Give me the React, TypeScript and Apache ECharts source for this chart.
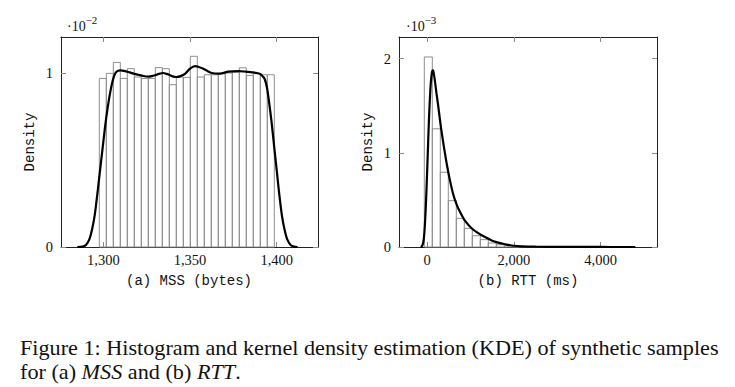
import React, { useEffect, useRef } from "react";
import * as echarts from "echarts";

// ---- Data (densities shown in the axis' scaled units) ----
// (a) MSS histogram: 25 bins, density in units of 1e-2
const MSS_BIN_START = 1297.7;
const MSS_BIN_WIDTH = 4.036;
const mssHist = [
  0.969, 0.998, 1.061, 0.969, 1.025, 0.977, 0.969, 0.969, 1.031, 1.025, 0.933, 0.977, 0.975,
  1.096, 0.977, 0.99, 0.99, 0.995, 1.0, 1.005, 1.03, 0.986, 0.996, 0.99, 0.99,
];
// (a) MSS KDE curve
const mssKdeX = [
  1285, 1288, 1290, 1292, 1293.5, 1295, 1296.5, 1298, 1299.5, 1301, 1302.5, 1304, 1305.5, 1307,
  1308.5, 1310, 1312, 1314.4, 1317, 1320.2, 1323, 1326, 1328, 1329.8, 1332, 1334.6, 1336.5,
  1338.5, 1340.5, 1342.3, 1344.5, 1347.1, 1350, 1352.9, 1355, 1357.7, 1360, 1362.5, 1366.3, 1369,
  1372.1, 1377.9, 1382, 1385.6, 1388, 1390.4, 1392, 1393, 1394.3, 1395.5, 1397, 1398.5, 1400,
  1401.5, 1403, 1404.5, 1406, 1408, 1410, 1412,
];
const mssKdeY = [
  0, 0.002, 0.012, 0.045, 0.1, 0.18, 0.3, 0.43, 0.56, 0.69, 0.8, 0.89, 0.96, 1.0, 1.013, 1.015,
  1.012, 1.006, 0.998, 0.99, 0.983, 0.979, 0.982, 0.987, 0.995, 1.0, 0.995, 0.987, 0.979, 0.977,
  0.982, 0.995, 1.025, 1.04, 1.035, 1.025, 1.012, 1.0, 0.996, 1.0, 1.008, 1.011, 1.008, 1.004,
  1.001, 0.995, 0.98, 0.967, 0.92, 0.84, 0.72, 0.58, 0.44, 0.3, 0.18, 0.1, 0.045, 0.012, 0.002, 0,
];

// (b) RTT histogram: 25 bins, density in units of 1e-3
const RTT_BIN_START = -66.5;
const RTT_BIN_WIDTH = 184.5;
const rttHist = [
  2.018, 1.255, 0.794, 0.492, 0.304, 0.198, 0.12, 0.078, 0.042, 0.024, 0.014, 0.009, 0.006,
  0.004, 0.003, 0.002, 0.0015, 0.001, 0.001, 0.0005, 0.0005, 0, 0, 0, 0.0005,
];
// (b) RTT KDE curve
const rttKdeX = [
  -150, -120, -95, -75, -55, -35, -15, 5, 25, 45, 65, 85, 105, 125, 140, 160, 185, 215, 254, 300,
  350, 408, 460, 524, 600, 680, 770, 870, 1024, 1150, 1255, 1380, 1486, 1600, 1717, 1830, 1947,
  2178, 2500, 3000, 3500, 4000, 4500, 4800,
];
const rttKdeY = [
  0, 0.01, 0.04, 0.1, 0.22, 0.4, 0.62, 0.88, 1.15, 1.4, 1.6, 1.75, 1.84, 1.875, 1.87, 1.82, 1.74,
  1.63, 1.5, 1.33, 1.17, 1.0, 0.86, 0.71, 0.56, 0.45, 0.36, 0.28, 0.2, 0.155, 0.125, 0.095, 0.07,
  0.052, 0.038, 0.025, 0.016, 0.007, 0.003, 0.0012, 0.0006, 0.0003, 0.0001, 0,
];

// Tick values
const mssXTicks = [1300, 1350, 1400];
const mssYTicks = [0, 1];
const rttXTicks = [0, 2000, 4000];
const rttYTicks = [0, 1, 2];

const SERIF = "'Liberation Serif', 'Times New Roman', serif";
const MONO = "'Liberation Mono', 'DejaVu Sans Mono', monospace";

function fmt(v: number) {
  return Math.round(v).toLocaleString("en-US");
}

function histData(start: number, width: number, vals: number[]) {
  return vals.map((h, i) => [start + i * width, start + (i + 1) * width, h]);
}

function makeAxes(
  gridIndex: number,
  xMin: number,
  xMax: number,
  yMin: number,
  yMax: number,
  xTicks: number[],
  yTicks: number[]
) {
  const lineStyle = { color: "#222", width: 1 };
  const tick = (vals: number[]) => ({
    show: true,
    inside: true,
    length: 5,
    customValues: vals,
    lineStyle: { color: "#8a8a8a", width: 1 },
  });
  const xs = [
    {
      type: "value",
      gridIndex,
      position: "bottom",
      min: xMin,
      max: xMax,
      axisLine: { show: true, onZero: false, lineStyle },
      axisTick: tick(xTicks),
      splitLine: { show: false },
      axisLabel: {
        customValues: xTicks,
        formatter: (v: number) => fmt(v),
        fontFamily: SERIF,
        fontSize: 14.5,
        color: "#111",
        margin: 5,
      },
    },
    {
      type: "value",
      gridIndex,
      position: "top",
      min: xMin,
      max: xMax,
      axisLine: { show: true, onZero: false, lineStyle },
      axisTick: tick(xTicks),
      splitLine: { show: false },
      axisLabel: { show: false },
    },
  ];
  const ys = [
    {
      type: "value",
      gridIndex,
      position: "left",
      min: yMin,
      max: yMax,
      axisLine: { show: true, onZero: false, lineStyle },
      axisTick: tick(yTicks),
      splitLine: { show: false },
      axisLabel: {
        customValues: yTicks,
        formatter: (v: number) => fmt(v),
        fontFamily: SERIF,
        fontSize: 14.5,
        color: "#111",
        margin: 8,
      },
    },
    {
      type: "value",
      gridIndex,
      position: "right",
      min: yMin,
      max: yMax,
      axisLine: { show: true, onZero: false, lineStyle },
      axisTick: tick(yTicks),
      splitLine: { show: false },
      axisLabel: { show: false },
    },
  ];
  return { xs, ys };
}

function histSeries(xAxisIndex: number, yAxisIndex: number, data: number[][]) {
  return {
    type: "custom",
    xAxisIndex,
    yAxisIndex,
    data,
    encode: { x: [0, 1], y: 2 },
    renderItem: (_params: any, api: any) => {
      const x0 = api.value(0);
      const x1 = api.value(1);
      const h = api.value(2);
      const p0 = api.coord([x0, 0]);
      const p1 = api.coord([x1, h]);
      return {
        type: "rect",
        shape: { x: p0[0], y: p1[1], width: p1[0] - p0[0], height: p0[1] - p1[1] },
        style: { fill: "rgba(255,255,255,0)", stroke: "#8f8f8f", lineWidth: 1 },
      };
    },
    z: 2,
  };
}

function kdeSeries(xAxisIndex: number, yAxisIndex: number, xs: number[], ys: number[]) {
  return {
    type: "line",
    xAxisIndex,
    yAxisIndex,
    data: xs.map((x, i) => [x, ys[i]]),
    showSymbol: false,
    symbol: "none",
    smooth: 0.3,
    lineStyle: { color: "#000", width: 2.2 },
    z: 3,
  };
}

export default function App() {
  const ref = useRef<HTMLDivElement>(null);

  useEffect(() => {
    if (!ref.current) return;
    const chart = echarts.init(ref.current, undefined, { renderer: "svg" });

    const a = makeAxes(0, 1275.6, 1423.8, 0, 1.207, mssXTicks, mssYTicks);
    const b = makeAxes(1, -650, 5300, 0, 2.23, rttXTicks, rttYTicks);

    const supText = (x: number, y: number, exp: string) => ({
      type: "text",
      left: x,
      top: y,
      style: {
        text: "{a|·10}{b|" + exp + "}",
        rich: {
          a: { fontFamily: SERIF, fontSize: 14, fill: "#111", lineHeight: 19, verticalAlign: "bottom" },
          b: { fontFamily: SERIF, fontSize: 11, fill: "#111", lineHeight: 19, verticalAlign: "top" },
        },
      },
    });

    const nameText = (x: number, y: number, text: string, rotate = false) => ({
      type: "text",
      x,
      y,
      rotation: rotate ? Math.PI / 2 : 0,
      style: {
        text,
        fontFamily: MONO,
        fontSize: 14,
        fill: "#111",
        align: "center",
        verticalAlign: "middle",
      },
    });

    chart.setOption({
      animation: false,
      backgroundColor: "#fff",
      grid: [
        { left: 61, top: 37, width: 257, height: 210, show: false },
        { left: 399, top: 37, width: 258, height: 210, show: false },
      ],
      xAxis: [...a.xs, ...b.xs.map((x) => ({ ...x, gridIndex: 1 }))],
      yAxis: [...a.ys, ...b.ys.map((y) => ({ ...y, gridIndex: 1 }))],
      series: [
        histSeries(0, 0, histData(MSS_BIN_START, MSS_BIN_WIDTH, mssHist)),
        kdeSeries(0, 0, mssKdeX, mssKdeY),
        histSeries(2, 2, histData(RTT_BIN_START, RTT_BIN_WIDTH, rttHist)),
        kdeSeries(2, 2, rttKdeX, rttKdeY),
      ],
      graphic: [
        supText(67, 14, "−2"),
        supText(406, 14, "−3"),
        nameText(30, 142, "Density", true),
        nameText(368, 142, "Density", true),
        nameText(189, 281, "(a) MSS (bytes)"),
        nameText(528, 281, "(b) RTT (ms)"),
        {
          type: "text",
          x: 20,
          y: 336,
          scaleX: 1.11,
          style: {
            text:
              "Figure 1: Histogram and kernel density estimation (KDE) of synthetic samples\nfor (a) {i|MSS} and (b) {i|RTT}.",
            fontFamily: SERIF,
            fontSize: 20,
            lineHeight: 24,
            fill: "#111",
            align: "left",
            verticalAlign: "top",
            rich: {
              i: { fontFamily: SERIF, fontSize: 20, fontStyle: "italic", lineHeight: 24, fill: "#111" },
            },
          },
        },
      ],
    });

    return () => chart.dispose();
  }, []);

  return (
    <div
      ref={ref}
      style={{ position: "absolute", left: 0, top: 0, width: 735, height: 387, background: "#fff" }}
    />
  );
}
